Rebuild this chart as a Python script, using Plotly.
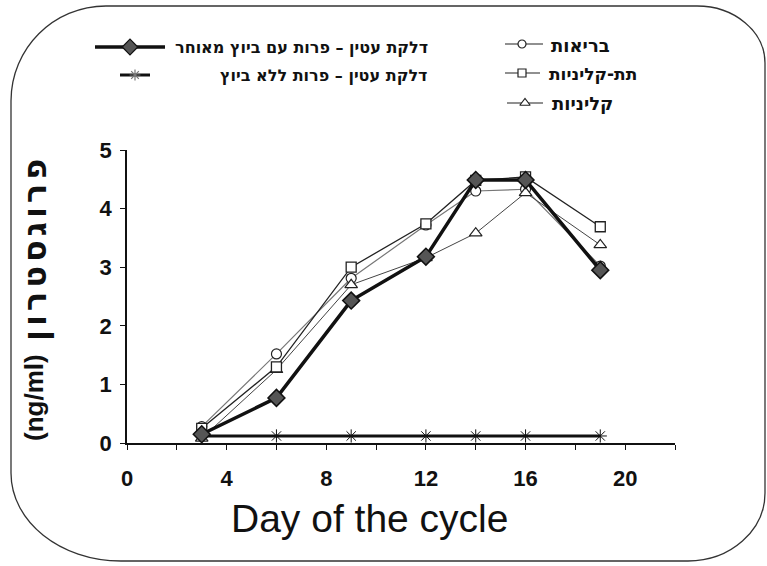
import plotly.graph_objects as go

W, H = 767, 566

# ---------------- data ----------------
DAYS = [3, 6, 9, 12, 14, 16, 19]
LATE_OVULATION = [0.15, 0.77, 2.43, 3.18, 4.49, 4.49, 2.95]
NO_OVULATION = [0.12, 0.12, 0.12, 0.12, 0.12, 0.12, 0.12]
HEALTHY = [0.28, 1.52, 2.81, 3.72, 4.30, 4.33, 3.02]
SUBCLINICAL = [0.25, 1.30, 3.00, 3.74, 4.48, 4.54, 3.69]
CLINICAL = [0.08, 1.25, 2.70, 3.16, 3.58, 4.27, 3.38]

NAME_LATE = "דלקת עטין – פרות עם ביוץ מאוחר"
NAME_NONE = "דלקת עטין – פרות ללא ביוץ"
NAME_HEALTHY = "בריאות"
NAME_SUB = "תת-קליניות"
NAME_CLIN = "קליניות"

X_TICKS = [0, 2, 4, 6, 8, 10, 12, 14, 16, 18, 20, 22]
X_TICK_LABELS = ["0", "", "4", "", "8", "", "12", "", "16", "", "20", ""]
Y_TICKS = [0, 1, 2, 3, 4, 5]
X_TITLE = "Day of the cycle"
Y_TITLE_UNIT = "(ng/ml)"
Y_TITLE_HEB = "פרוגסטרון"

FONT = "Liberation Sans, Arial, DejaVu Sans, sans-serif"
HEB_FONT = "DejaVu Sans, Liberation Sans, sans-serif"


def px(x):
    return x / W


def py(y):
    return 1 - y / H


fig = go.Figure()

# ---------------- data series ----------------
fig.add_trace(go.Scatter(
    x=DAYS, y=NO_OVULATION, mode="lines+markers", name=NAME_NONE,
    line=dict(color="#111", width=3),
    marker=dict(symbol="asterisk-open", size=11, line=dict(color="#777", width=1)),
))
fig.add_trace(go.Scatter(
    x=DAYS, y=HEALTHY, mode="lines+markers", name=NAME_HEALTHY,
    line=dict(color="#777", width=1.2),
    marker=dict(symbol="circle", size=10, color="white", line=dict(color="#222", width=1.2)),
))
fig.add_trace(go.Scatter(
    x=DAYS, y=CLINICAL, mode="lines+markers", name=NAME_CLIN,
    line=dict(color="#444", width=1),
    marker=dict(symbol="triangle-up", size=11, color="white", line=dict(color="#222", width=1.2)),
))
fig.add_trace(go.Scatter(
    x=DAYS, y=SUBCLINICAL, mode="lines+markers", name=NAME_SUB,
    line=dict(color="#222", width=1.3),
    marker=dict(symbol="square", size=10, color="white", line=dict(color="#222", width=1.3)),
))
fig.add_trace(go.Scatter(
    x=DAYS, y=LATE_OVULATION, mode="lines+markers", name=NAME_LATE,
    line=dict(color="#111", width=3.5),
    marker=dict(symbol="diamond", size=13, color="#555", line=dict(color="#111", width=1.5)),
))

# ---------------- custom legend keys (overlay pixel axis) ----------------
legend_keys = [
    (95, 165, 47, 3.5, "#111", "diamond", 130, 12, "#555", "#111"),
    (120, 150, 75, 3, "#111", "asterisk-open", 135, 9, "#777", "#777"),
    (505, 543, 44, 1.2, "#222", "circle", 522, 8, "white", "#222"),
    (505, 540, 73, 1.2, "#222", "square", 522, 8, "white", "#222"),
    (507, 543, 103, 1.2, "#222", "triangle-up", 525, 9, "white", "#222"),
]
for x0, x1, yy, lw, lc, sym, mx, ms, fill, mline in legend_keys:
    fig.add_trace(go.Scatter(
        x=[x0, x1], y=[yy, yy], mode="lines", xaxis="x2", yaxis="y2",
        line=dict(color=lc, width=lw), showlegend=False, hoverinfo="skip",
    ))
    fig.add_trace(go.Scatter(
        x=[mx], y=[yy], mode="markers", xaxis="x2", yaxis="y2",
        marker=dict(symbol=sym, size=ms, color=fill, line=dict(color=mline, width=1.2)),
        showlegend=False, hoverinfo="skip",
    ))

annotations = [
    dict(text=NAME_LATE, x=px(430), y=py(47), xanchor="right", yanchor="middle", size=16),
    dict(text=NAME_NONE, x=px(430), y=py(75), xanchor="right", yanchor="middle", size=16),
    dict(text=NAME_HEALTHY, x=px(549), y=py(45), xanchor="left", yanchor="middle", size=18),
    dict(text=NAME_SUB, x=px(547), y=py(74), xanchor="left", yanchor="middle", size=17),
    dict(text=NAME_CLIN, x=px(550), y=py(104), xanchor="left", yanchor="middle", size=18),
]
for a in annotations:
    s = a.pop("size")
    a.update(xref="paper", yref="paper", showarrow=False,
             font=dict(family=HEB_FONT, size=s, color="#111", weight="bold"))

annotations.append(dict(
    text=X_TITLE, x=px(369), y=py(518), xref="paper", yref="paper",
    xanchor="center", yanchor="middle", showarrow=False,
    font=dict(family=FONT, size=39, color="#111"),
))
# y-axis title: unit part and Hebrew part
annotations.append(dict(
    text=Y_TITLE_UNIT, x=px(34), y=py(398), xref="paper", yref="paper",
    xanchor="center", yanchor="middle", showarrow=False, textangle=-90,
    font=dict(family=FONT, size=26, color="#111", weight="bold"),
))
annotations.append(dict(
    text=f"<span style='letter-spacing:4px'>{Y_TITLE_HEB}</span>",
    x=px(35), y=py(248), xref="paper", yref="paper",
    xanchor="center", yanchor="middle", showarrow=False, textangle=-90,
    font=dict(family=HEB_FONT, size=32, color="#111", weight="bold"),
))

# ---------------- rounded border ----------------
L, R, T, B = 11, 765, 6, 561
k = 0.5523
corners = dict(tl=(95, 95), tr=(68, 57), br=(77, 68), bl=(110, 88))


def P(x, y):
    return f"{px(x):.5f},{py(y):.5f}"


rx, ry = corners["tl"]
path = f"M {P(L, T + ry)} C {P(L, T + ry - k * ry)} {P(L + rx - k * rx, T)} {P(L + rx, T)} "
rx, ry = corners["tr"]
path += f"L {P(R - rx, T)} C {P(R - rx + k * rx, T)} {P(R, T + ry - k * ry)} {P(R, T + ry)} "
rx, ry = corners["br"]
path += f"L {P(R, B - ry)} C {P(R, B - ry + k * ry)} {P(R - rx + k * rx, B)} {P(R - rx, B)} "
rx, ry = corners["bl"]
path += f"L {P(L + rx, B)} C {P(L + rx - k * rx, B)} {P(L, B - ry + k * ry)} {P(L, B - ry)} Z"

shapes = [dict(type="path", path=path, xref="paper", yref="paper",
               line=dict(color="#333", width=1.3), layer="below")]

tickfont = dict(family=FONT, size=22, color="#111", weight="bold")

fig.update_layout(
    width=W, height=H, autosize=False,
    margin=dict(l=0, r=0, t=0, b=0, autoexpand=False),
    paper_bgcolor="white", plot_bgcolor="rgba(0,0,0,0)",
    showlegend=False,
    xaxis=dict(
        domain=[px(127), px(675)], range=[0, 22],
        tickmode="array", tickvals=X_TICKS, ticktext=X_TICK_LABELS,
        showline=True, linecolor="#111", linewidth=1.5,
        ticks="outside", ticklen=5, tickwidth=1.3, tickcolor="#111",
        ticklabelstandoff=10,
        showgrid=False, zeroline=False, tickfont=tickfont, fixedrange=True,
        anchor="y", automargin=False,
    ),
    yaxis=dict(
        domain=[py(443), py(150)], range=[0, 5],
        tickmode="array", tickvals=Y_TICKS,
        showline=True, linecolor="#111", linewidth=1.5,
        ticks="outside", ticklen=5, tickwidth=1.3, tickcolor="#111",
        ticklabelstandoff=4,
        showgrid=False, zeroline=False, tickfont=tickfont, fixedrange=True,
        anchor="x", automargin=False,
    ),
    xaxis2=dict(domain=[0, 1], range=[0, W], visible=False, fixedrange=True, anchor="y2"),
    yaxis2=dict(domain=[0, 1], range=[H, 0], visible=False, fixedrange=True, anchor="x2"),
    annotations=annotations,
    shapes=shapes,
)

fig.write_html(
    "out.html",
    config={"displayModeBar": False},
    post_script="document.body.style.margin='0';document.body.style.overflow='hidden';",
)
